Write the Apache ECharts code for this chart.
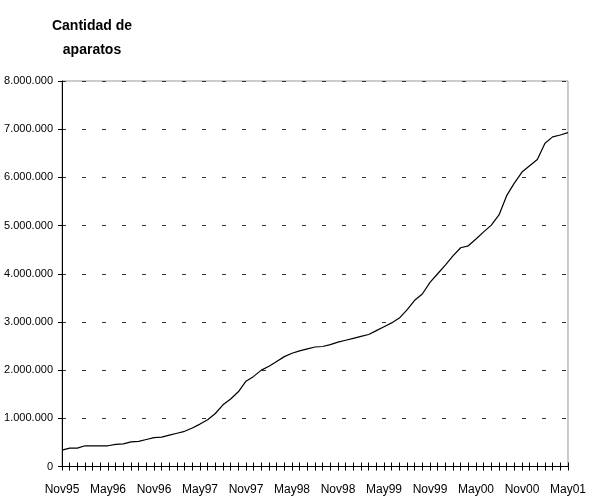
<!DOCTYPE html>
<html>
<head>
<meta charset="utf-8">
<script src="https://cdn.jsdelivr.net/npm/echarts@6/dist/echarts.min.js"></script>
<style>html,body{margin:0;padding:0;background:#fff}#c{width:589px;height:499px}</style>
</head>
<body>
<div id="c"></div>
<script>
const titleText = "Cantidad de\naparatos";
// 67 monthly categories Nov95 .. May01
const categories = [
 "Nov95","Dic95","Ene96","Feb96","Mar96","Abr96","May96","Jun96","Jul96","Ago96","Sep96","Oct96",
 "Nov96","Dic96","Ene97","Feb97","Mar97","Abr97","May97","Jun97","Jul97","Ago97","Sep97","Oct97",
 "Nov97","Dic97","Ene98","Feb98","Mar98","Abr98","May98","Jun98","Jul98","Ago98","Sep98","Oct98",
 "Nov98","Dic98","Ene99","Feb99","Mar99","Abr99","May99","Jun99","Jul99","Ago99","Sep99","Oct99",
 "Nov99","Dic99","Ene00","Feb00","Mar00","Abr00","May00","Jun00","Jul00","Ago00","Sep00","Oct00",
 "Nov00","Dic00","Ene01","Feb01","Mar01","Abr01","May01"
];
const tickLabels = {0:"Nov95",6:"May96",12:"Nov96",18:"May97",24:"Nov97",30:"May98",36:"Nov98",42:"May99",48:"Nov99",54:"May00",60:"Nov00",66:"May01"};
const aparatos = [
 340000,380000,380000,430000,430000,430000,430000,460000,470000,510000,520000,560000,
 600000,610000,650000,690000,730000,800000,880000,970000,1100000,1280000,1400000,1550000,
 1770000,1870000,2000000,2080000,2180000,2280000,2350000,2400000,2440000,2480000,2490000,2530000,
 2580000,2620000,2660000,2700000,2740000,2820000,2900000,2980000,3080000,3250000,3450000,3580000,
 3820000,4000000,4180000,4370000,4540000,4580000,4720000,4870000,5010000,5220000,5620000,5880000,
 6110000,6240000,6370000,6710000,6840000,6880000,6930000
];
const yMin = 0, yMax = 8000000, yInterval = 1000000;

const FONT = '"Liberation Sans Narrow","Liberation Sans",Arial,sans-serif';
function fmt(v){ return String(v).replace(/\B(?=(\d{3})+(?!\d))/g, "."); }

const chart = echarts.init(document.getElementById('c'), null, {renderer:'canvas'});
chart.setOption({
  animation:false,
  backgroundColor:'#fff',
  title:{
    text:titleText, left:87, top:9, textAlign:'center',
    textStyle:{fontFamily:FONT, fontWeight:'bold', fontSize:14, color:'#000', lineHeight:24}
  },
  grid:{left:62, right:19.5, top:81, bottom:32.5, show:true, borderColor:'#999', borderWidth:1, containLabel:false},
  xAxis:[{
    type:'category', data:categories, boundaryGap:false,
    axisLine:{lineStyle:{color:'#000', width:1}},
    axisTick:{show:true, interval:0, length:4, lineStyle:{color:'#000'}},
    axisLabel:{interval:0, margin:17, fontFamily:FONT, fontSize:12, color:'#000',
      formatter:(v, i)=> tickLabels[i] !== undefined ? tickLabels[i] : ''},
    splitLine:{show:false}
  },{
    type:'category', data:categories, boundaryGap:false, position:'bottom',
    axisLine:{show:false},
    axisTick:{show:true, inside:true, interval:0, length:4, lineStyle:{color:'#000'}},
    axisLabel:{show:false}, splitLine:{show:false}
  }],
  yAxis:{
    type:'value', min:yMin, max:yMax, interval:yInterval,
    axisLine:{show:true, lineStyle:{color:'#000', width:1}},
    axisTick:{show:true, length:4, lineStyle:{color:'#000'}},
    axisLabel:{margin:9, fontFamily:FONT, fontSize:11, color:'#000', formatter:fmt},
    splitLine:{show:true, lineStyle:{color:'#333', width:1, type:[4,16], dashOffset:0}}
  },
  series:[{
    type:'line', data:aparatos, xAxisIndex:0, showSymbol:false, symbol:'none', smooth:false,
    lineStyle:{color:'#000', width:1.2}
  }]
});
</script>
</body>
</html>
